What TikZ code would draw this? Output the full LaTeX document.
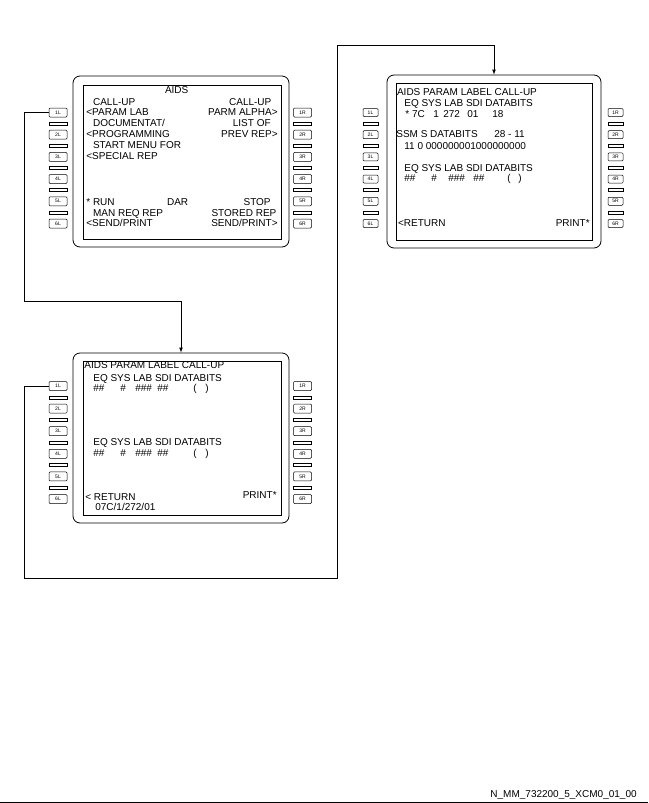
\documentclass[tikz,border=0pt]{standalone}
\usepackage{fontspec}
\setmainfont{Liberation Sans}
\tikzset{
	bezel/.style={draw,rounded corners=7pt,line width=0.8pt,inner sep=0},
	screen/.style={draw,line width=0.6pt,inner sep=0},
	key/.style={draw,rounded corners=1pt,line width=0.5pt,inner sep=0,minimum width=18pt,minimum height=9pt,font=\fontsize{5}{5}\selectfont},
	keyb/.style={key,minimum width=15pt,minimum height=8pt},
	lt/.style={anchor=base west,inner sep=0,font=\fontsize{10}{11}\selectfont},
	rt/.style={anchor=base east,inner sep=0,font=\fontsize{10}{11}\selectfont},
	ct/.style={anchor=base,inner sep=0,font=\fontsize{10}{11}\selectfont}
}
\begin{document}
\begin{tikzpicture}[x=1pt,y=-1pt,>=latex,line width=0.7pt]
	\useasboundingbox (0,0) rectangle (648,803);

	% screen A: AIDS menu
	\node[bezel,minimum width=216pt,minimum height=171pt] (scrA) at (181,161.5) {};
	\node[screen,minimum width=198pt,minimum height=154pt] (scrAin) at (182,162) {};
	\node[key] (aL1) at (58,112.5) {1L};
	\node[key] (aL2) at (58,134.7) {2L};
	\node[key] (aL3) at (58,156.9) {3L};
	\node[key] (aL4) at (58,179.1) {4L};
	\node[key] (aL5) at (58,201.3) {5L};
	\node[key] (aL6) at (58,223.5) {6L};
	\node[key] (aR1) at (302.5,112.5) {1R};
	\node[key] (aR2) at (302.5,134.7) {2R};
	\node[key] (aR3) at (302.5,156.9) {3R};
	\node[key] (aR4) at (302.5,179.1) {4R};
	\node[key] (aR5) at (302.5,201.3) {5R};
	\node[key] (aR6) at (302.5,223.5) {6R};
	\foreach \y in {123.6,145.8,168,190.2,212.4}{
		\draw[line width=0.5pt] (49,\y-1.5) rectangle (67,\y+1.5);
		\draw[line width=0.5pt] (293.5,\y-1.5) rectangle (311.5,\y+1.5);
	}
	\node[ct] (aT0) at (176.7,93.5) {AIDS};
	\node[lt] (aT1) at (92.7,105.2) {CALL-UP};
	\node[rt] (aT2) at (271.7,105.2) {CALL-UP};
	\node[lt] (aT3) at (86,115.5) {<PARAM LAB};
	\node[rt] (aT4) at (278,115.5) {PARM ALPHA>};
	\node[lt] (aT5) at (92.7,126.5) {DOCUMENTAT/};
	\node[rt] (aT6) at (271,126.5) {LIST OF};
	\node[lt] (aT7) at (86,137.5) {<PROGRAMMING};
	\node[rt] (aT8) at (278,137.5) {PREV REP>};
	\node[lt] (aT9) at (92.7,148.5) {START MENU FOR};
	\node[lt] (aT10) at (86,159.5) {<SPECIAL REP};
	\node[lt] (aT11) at (86,205.5) {* RUN};
	\node[lt] (aT12) at (166.7,205.5) {DAR};
	\node[rt] (aT13) at (271,205.5) {STOP};
	\node[lt] (aT14) at (92.7,216) {MAN REQ REP};
	\node[rt] (aT15) at (276.7,216) {STORED REP};
	\node[lt] (aT16) at (86,226.5) {<SEND/PRINT};
	\node[rt] (aT17) at (278,226.5) {SEND/PRINT>};

	% screen B: label call-up, values shown
	\node[bezel,minimum width=214pt,minimum height=173pt] (scrB) at (494,161.5) {};
	\node[screen,minimum width=196pt,minimum height=157pt] (scrBin) at (494,162) {};
	\node[keyb] (bL1) at (370.5,112.5) {1L};
	\node[keyb] (bL2) at (370.5,134.7) {2L};
	\node[keyb] (bL3) at (370.5,156.9) {3L};
	\node[keyb] (bL4) at (370.5,179.1) {4L};
	\node[keyb] (bL5) at (370.5,201.3) {5L};
	\node[keyb] (bL6) at (370.5,223.5) {6L};
	\node[keyb] (bR1) at (615.5,112.5) {1R};
	\node[keyb] (bR2) at (615.5,134.7) {2R};
	\node[keyb] (bR3) at (615.5,156.9) {3R};
	\node[keyb] (bR4) at (615.5,179.1) {4R};
	\node[keyb] (bR5) at (615.5,201.3) {5R};
	\node[keyb] (bR6) at (615.5,223.5) {6R};
	\foreach \y in {123.6,145.8,168,190.2,212.4}{
		\draw[line width=0.5pt] (363,\y-1.5) rectangle (378,\y+1.5);
		\draw[line width=0.5pt] (608,\y-1.5) rectangle (623,\y+1.5);
	}
	\node[lt] (bT1) at (396.7,95.2) {AIDS PARAM LABEL CALL-UP};
	\node[lt] (bT2) at (404,106.2) {EQ SYS LAB SDI DATABITS};
	\node[lt] (bT3) at (405,117.5) {* 7C};
	\node[lt] (bT4) at (433,117.5) {1};
	\node[lt] (bT5) at (443,117.5) {272};
	\node[lt] (bT6) at (467,117.5) {01};
	\node[lt] (bT7) at (492,117.5) {18};
	\node[lt] (bT8) at (396,137.5) {SSM S DATABITS};
	\node[lt] (bT9) at (494,137.5) {28 - 11};
	\node[lt] (bT10) at (404,149.5) {11 0 000000001000000000};
	\node[lt] (bT11) at (404,171.2) {EQ SYS LAB SDI DATABITS};
	\node[lt] (bT12) at (404,181.8) {\#\#};
	\node[lt] (bT13) at (431,181.8) {\#};
	\node[lt] (bT14) at (448,181.8) {\#\#\#};
	\node[lt] (bT15) at (473,181.8) {\#\#};
	\node[lt] (bT16) at (507,181.8) {(};
	\node[lt] (bT17) at (518,181.8) {)};
	\node[lt] (bT18) at (397.7,226.2) {<RETURN};
	\node[rt] (bT19) at (590,226.2) {PRINT*};

	% screen C: label call-up, empty
	\node[bezel,minimum width=216pt,minimum height=170pt] (scrC) at (181,438) {};
	\node[screen,minimum width=198pt,minimum height=154pt] (scrCin) at (182,438) {};
	\node[key] (cL1) at (58,386) {1L};
	\node[key] (cL2) at (58,408.6) {2L};
	\node[key] (cL3) at (58,431.2) {3L};
	\node[key] (cL4) at (58,453.8) {4L};
	\node[key] (cL5) at (58,476.4) {5L};
	\node[key] (cL6) at (58,499) {6L};
	\node[key] (cR1) at (302.5,386) {1R};
	\node[key] (cR2) at (302.5,408.6) {2R};
	\node[key] (cR3) at (302.5,431.2) {3R};
	\node[key] (cR4) at (302.5,453.8) {4R};
	\node[key] (cR5) at (302.5,476.4) {5R};
	\node[key] (cR6) at (302.5,499) {6R};
	\foreach \y in {397.3,419.9,442.5,465.1,487.7}{
		\draw[line width=0.5pt] (49,\y-1.5) rectangle (67,\y+1.5);
		\draw[line width=0.5pt] (293.5,\y-1.5) rectangle (311.5,\y+1.5);
	}
	\node[lt] (cT1) at (84,368.5) {AIDS PARAM LABEL CALL-UP};
	\node[lt] (cT2) at (93,381.8) {EQ SYS LAB SDI DATABITS};
	\node[lt] (cT3) at (93,391.8) {\#\#};
	\node[lt] (cT4) at (120,391.8) {\#};
	\node[lt] (cT5) at (135,391.8) {\#\#\#};
	\node[lt] (cT6) at (157,391.8) {\#\#};
	\node[lt] (cT7) at (193,391.8) {(};
	\node[lt] (cT8) at (205,391.8) {)};
	\node[lt] (cT9) at (93,445.2) {EQ SYS LAB SDI DATABITS};
	\node[lt] (cT10) at (93,456.8) {\#\#};
	\node[lt] (cT11) at (120,456.8) {\#};
	\node[lt] (cT12) at (135,456.8) {\#\#\#};
	\node[lt] (cT13) at (157,456.8) {\#\#};
	\node[lt] (cT14) at (193,456.8) {(};
	\node[lt] (cT15) at (205,456.8) {)};
	\node[lt] (cT16) at (85,500.2) {< RETURN};
	\node[rt] (cT17) at (277,498.5) {PRINT*};
	\node[lt] (cT18) at (95,510.2) {07C/1/272/01};

	% connectors
	\coordinate (bendA) at (24,301);
	\coordinate (bendB) at (24,578);
	\coordinate (bendC) at (337,45);
	\draw[->] (aL1.west) -| (bendA) -| (scrC.north);
	\draw[->] (cL1.west) -| (bendB) -| (bendC) -| (scrB.north);

	% sheet footer
	\coordinate (footL) at (0,802);
	\coordinate (footR) at (648,802);
	\draw[line width=0.8pt] (footL) -- (footR);
	\node[rt] (drwno) at (637,797.5) {N\_MM\_732200\_5\_XCM0\_01\_00};
\end{tikzpicture}
\end{document}
